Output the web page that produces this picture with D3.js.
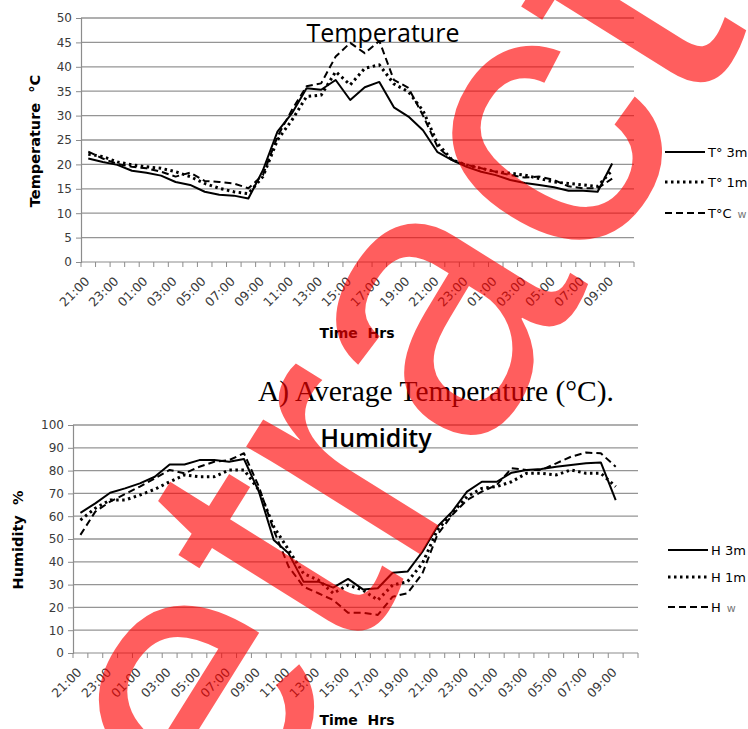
<!DOCTYPE html>
<html>
<head>
<meta charset="utf-8">
<script src="https://cdn.jsdelivr.net/npm/d3@7"></script>
<style>
  body { margin: 0; background: #fff; }
  svg { display: block; }
</style>
</head>
<body>
<svg id="chart" width="748" height="729"></svg>
<script>
// hours 21:00 -> 10:00 (next-next day), one category per hour
const hours = ['21:00', '22:00', '23:00', '00:00', '01:00', '02:00', '03:00', '04:00', '05:00', '06:00',
    '07:00', '08:00', '09:00', '10:00', '11:00', '12:00', '13:00', '14:00', '15:00', '16:00',
    '17:00', '18:00', '19:00', '20:00', '21:00', '22:00', '23:00', '00:00', '01:00', '02:00',
    '03:00', '04:00', '05:00', '06:00', '07:00', '08:00', '09:00', '10:00'];

const tempTicks = [0, 5, 10, 15, 20, 25, 30, 35, 40, 45, 50];
const humTicks = [0, 10, 20, 30, 40, 50, 60, 70, 80, 90, 100];

const t3m = [21.2, 20.5, 19.9, 18.7, 18.3, 17.7, 16.4, 15.8, 14.4, 13.8, 13.6, 13.0, 18.8, 26.7, 30.5, 35.6, 35.3, 37.3, 33.2, 35.8, 36.9, 31.7, 29.8, 27.0, 22.5, 20.9, 19.5, 18.5, 17.8, 16.8, 16.2, 15.8, 15.3, 14.6, 14.6, 14.4, 20.2];
const t1m = [22.1, 21.6, 20.5, 19.9, 19.5, 19.2, 18.5, 17.5, 16.1, 15.1, 14.4, 14.0, 17.5, 25.0, 29.1, 33.9, 34.2, 39.0, 36.3, 39.7, 40.4, 36.5, 34.9, 31.0, 24.3, 20.9, 19.9, 19.2, 18.5, 18.2, 17.8, 17.1, 16.4, 16.1, 15.8, 15.5, 18.8];
const tw = [22.6, 21.2, 20.1, 19.5, 19.2, 18.5, 17.5, 18.3, 16.6, 16.4, 16.1, 15.1, 17.8, 25.7, 31.2, 36.0, 36.6, 42.1, 44.9, 42.8, 45.3, 37.3, 35.7, 30.0, 23.6, 20.9, 19.9, 19.2, 18.5, 17.8, 17.3, 17.5, 16.8, 15.5, 15.1, 15.1, 17.1];

const h3m = [61.5, 65.6, 70.3, 72.2, 74.4, 77.3, 82.7, 82.7, 84.6, 84.6, 83.9, 85.1, 70.8, 49.6, 43.7, 31.3, 31.3, 28.7, 32.5, 27.9, 28.4, 35.2, 35.7, 44.4, 55.4, 62.0, 70.8, 75.1, 75.1, 79.1, 80.3, 80.7, 81.7, 82.5, 83.2, 83.6, 67.1];
const h1m = [58.3, 63.5, 67.1, 67.1, 69.3, 71.8, 75.1, 78.1, 77.3, 77.3, 80.3, 80.3, 71.5, 55.4, 45.2, 34.9, 32.0, 26.2, 29.8, 27.6, 23.2, 29.8, 31.3, 39.3, 53.9, 61.3, 68.6, 72.2, 73.0, 75.1, 78.8, 78.8, 78.1, 80.3, 78.8, 78.8, 73.0];
const hw = [51.8, 62.0, 66.4, 69.7, 73.0, 76.6, 80.3, 78.8, 81.7, 83.9, 84.6, 87.6, 73.0, 53.9, 37.9, 29.1, 26.2, 23.2, 17.7, 17.7, 16.7, 24.7, 26.2, 34.9, 51.8, 60.5, 67.1, 70.8, 73.7, 81.0, 80.3, 80.3, 83.2, 86.1, 87.9, 87.6, 81.7];

const tempNames = ['T° 3m', 'T° 1m', 'T°C'];
const humNames = ['H 3m', 'H 1m', 'H'];

const svg = d3.select('#chart');
svg.append('rect').attr('width', 748).attr('height', 729).attr('fill', '#fff');

const styles = [
    { dash: null, width: 2 },
    { dash: '2.5,3.5', width: 3 },
    { dash: '7,4', width: 2 }
];

function drawChart(o) {
    const g = svg.append('g');
    // band per hour index (labels repeat, so index is the key)
    const x = d3.scaleBand().domain(d3.range(hours.length)).range([o.left, o.right]).padding(0);
    const y = d3.scaleLinear().domain([0, o.max]).range([o.bottom, o.top]);
    const bw = x.bandwidth();

    // gridlines
    g.append('g').selectAll('line').data(o.ticks.slice(1)).join('line')
        .attr('x1', o.left).attr('x2', o.right)
        .attr('y1', d => y(d)).attr('y2', d => y(d))
        .attr('stroke', '#959595').attr('stroke-width', 1.3);

    // y axis
    const ya = g.append('g').attr('transform', `translate(${o.left},0)`)
        .call(d3.axisLeft(y).tickValues(o.ticks).tickSize(5).tickPadding(o.yPad));
    ya.select('.domain').attr('stroke', '#8c8c8c').attr('stroke-width', 1.2);
    ya.selectAll('.tick line').attr('stroke', '#8c8c8c');
    ya.selectAll('text').attr('font-family', 'DejaVu Sans').attr('font-size', 12).attr('fill', '#3a3a3a');

    // x axis: ticks on category boundaries
    g.append('line').attr('x1', o.left).attr('x2', o.right)
        .attr('y1', o.bottom).attr('y2', o.bottom)
        .attr('stroke', '#8c8c8c').attr('stroke-width', 1.2);
    g.append('g').selectAll('line').data(d3.range(hours.length + 1)).join('line')
        .attr('x1', i => o.left + i * bw).attr('x2', i => o.left + i * bw)
        .attr('y1', o.bottom).attr('y2', o.bottom + 5)
        .attr('stroke', '#8c8c8c');
    g.append('g').selectAll('text').data(d3.range(0, hours.length, 2)).join('text')
        .attr('transform', i => `translate(${x(i) + bw / 2 + 2},${o.bottom + 20}) rotate(-45)`)
        .attr('text-anchor', 'end')
        .attr('font-family', 'DejaVu Sans').attr('font-size', 12.5).attr('fill', '#3a3a3a')
        .text(i => hours[i]);

    // series
    const line = d3.line().x((d, i) => x(i) + bw / 2).y(d => y(d));
    o.series.forEach((s, k) => {
        g.append('path').datum(s).attr('d', line)
            .attr('fill', 'none').attr('stroke', '#000')
            .attr('stroke-width', styles[k].width)
            .attr('stroke-dasharray', styles[k].dash)
            .attr('stroke-linejoin', 'round');
    });

    // titles
    g.append('text').attr('x', o.titleX).attr('y', o.titleY)
        .attr('font-family', 'Open Sans').attr('font-size', 25).attr('font-weight', o.titleWeight)
        .attr('text-anchor', 'middle').text(o.title);
    g.append('text').attr('x', 357).attr('y', o.xTitleY)
        .attr('font-family', 'DejaVu Sans').attr('font-size', 14).attr('font-weight', 'bold')
        .attr('text-anchor', 'middle').attr('xml:space', 'preserve').text('Time  Hrs');
    g.append('text').attr('transform', `translate(${o.yTitleX},${o.yTitleY}) rotate(-90)`)
        .attr('font-family', 'DejaVu Sans').attr('font-size', 14.5).attr('font-weight', 'bold')
        .attr('text-anchor', 'middle').attr('xml:space', 'preserve').text(o.yTitle);

    // legend
    o.names.forEach((n, k) => {
        const ly = o.legendY[k];
        g.append('line').attr('x1', o.legendX).attr('x2', o.legendX + 40)
            .attr('y1', ly).attr('y2', ly).attr('stroke', '#000')
            .attr('stroke-width', styles[k].width).attr('stroke-dasharray', styles[k].dash);
        const t = g.append('text').attr('x', o.legendX + 43).attr('y', ly + 5)
            .attr('font-family', 'DejaVu Sans').attr('font-size', 13).text(n);
        if (k == 2) t.append('tspan').attr('font-size', 11).attr('fill', '#777').attr('dx', 6).text('w');
    });
}

drawChart({
    left: 81, right: 634, top: 18, bottom: 262, max: 50, ticks: tempTicks, yPad: 4,
    series: [t3m, t1m, tw], names: tempNames,
    title: 'Temperature', titleX: 383, titleY: 42, titleWeight: 'normal',
    xTitleY: 338, yTitle: 'Temperature  °C', yTitleX: 40, yTitleY: 141,
    legendX: 665, legendY: [152, 182, 213]
});

drawChart({
    left: 73, right: 638, top: 425, bottom: 653, max: 100, ticks: humTicks, yPad: 4,
    series: [h3m, h1m, hw], names: humNames,
    title: 'Humidity', titleX: 376, titleY: 447, titleWeight: 600,
    xTitleY: 725, yTitle: 'Humidity  %', yTitleX: 23, yTitleY: 540,
    legendX: 668, legendY: [550, 577, 607]
});

// caption
svg.append('text').attr('x', 258).attr('y', 401)
    .attr('font-family', 'Liberation Serif').attr('font-size', 29.5)
    .text('A) Average Temperature (°C).');

// watermark
svg.append('text')
    .attr('transform', 'translate(532,376) rotate(-58)')
    .attr('text-anchor', 'middle')
    .attr('font-family', 'Liberation Sans').attr('font-size', 388)
    .attr('fill', '#ff0000').attr('fill-opacity', 0.63)
    .text('Retracted');
</script>
</body>
</html>
